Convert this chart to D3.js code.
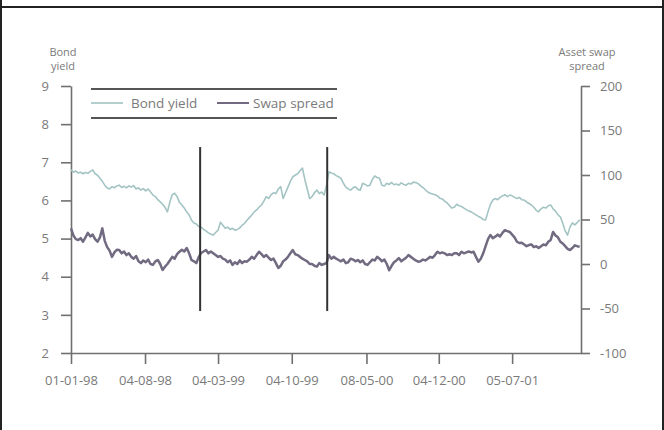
<!DOCTYPE html>
<html>
<head>
<meta charset="utf-8">
<script src="https://cdnjs.cloudflare.com/ajax/libs/d3/7.8.5/d3.min.js"></script>
<style>
  body { margin: 0; background: #fff; }
  svg { display: block; font-family: "Open Sans", "DejaVu Sans", sans-serif; }
</style>
</head>
<body>
<div class="chart"></div>
<script>
// weekly observations starting 01-01-98
var startDate = new Date(1998, 0, 1);
var endDate = new Date(2002, 0, 21);
var stepDays = 7;

var bondYield = [
  6.80, 6.74, 6.77, 6.72, 6.74, 6.70, 6.73, 6.71, 6.76, 6.80,
  6.70, 6.66, 6.58, 6.50, 6.40, 6.33, 6.30, 6.36, 6.33, 6.38,
  6.40, 6.34, 6.37, 6.33, 6.38, 6.35, 6.39, 6.30, 6.33, 6.27,
  6.31, 6.25, 6.30, 6.22, 6.14, 6.10, 6.02, 5.96, 5.90, 5.82,
  5.70, 5.95, 6.15, 6.19, 6.10, 5.95, 5.88, 5.80, 5.70, 5.62,
  5.48, 5.41, 5.38, 5.32, 5.30, 5.24, 5.20, 5.15, 5.12, 5.09,
  5.16, 5.22, 5.43, 5.35, 5.27, 5.30, 5.24, 5.27, 5.22, 5.24,
  5.28, 5.35, 5.40, 5.48, 5.55, 5.62, 5.70, 5.75, 5.82, 5.88,
  5.98, 6.10, 6.05, 6.15, 6.20, 6.18, 6.30, 6.36, 6.05, 6.20,
  6.35, 6.50, 6.62, 6.66, 6.70, 6.78, 6.85, 6.55, 6.30, 6.05,
  6.10, 6.20, 6.27, 6.18, 6.22, 6.14, 6.40, 6.75, 6.72, 6.70,
  6.65, 6.62, 6.58, 6.45, 6.35, 6.30, 6.27, 6.33, 6.36, 6.29,
  6.27, 6.45, 6.42, 6.38, 6.40, 6.55, 6.64, 6.60, 6.58, 6.40,
  6.38, 6.45, 6.42, 6.47, 6.41, 6.43, 6.40, 6.46, 6.42, 6.40,
  6.45, 6.43, 6.48, 6.47, 6.44, 6.38, 6.34, 6.28, 6.22, 6.19,
  6.17, 6.15, 6.12, 6.06, 6.04, 5.98, 5.94, 5.86, 5.80, 5.82,
  5.90, 5.86, 5.84, 5.80, 5.76, 5.72, 5.70, 5.66, 5.62, 5.58,
  5.55, 5.50, 5.49, 5.70, 5.90, 6.01, 6.05, 6.02, 6.08, 6.12,
  6.15, 6.10, 6.14, 6.12, 6.08, 6.05, 6.08, 6.02, 6.01, 5.96,
  5.92, 5.88, 5.82, 5.74, 5.70, 5.78, 5.82, 5.80, 5.86, 5.88,
  5.78, 5.72, 5.62, 5.57, 5.40, 5.20, 5.09, 5.30, 5.41, 5.36,
  5.42, 5.49
];

var swapSpread = [
  40, 32, 28, 27, 29, 25, 30, 35, 31, 33,
  28, 25, 30, 40, 26, 19, 15, 8, 13, 16,
  15.7, 12, 14, 10, 12, 8, 6, 9, 3, 1,
  4, 2, 5, 0, -1, 3, 4.5, 0, -6.7, -3,
  0, 4, 8, 6, 11, 13.8, 16, 14, 18, 12,
  4.5, 3, 1, 8, 12.4, 14, 15.7, 12, 14, 12,
  10, 8, 9, 6, 5, 2, 4, -1, 2, 0,
  4, 1, 3, 2.6, 5, 8, 6, 10, 13.8, 11,
  8, 10, 7, 4.5, 6, 1, -4.5, -2, 3, 5,
  8, 12, 15.7, 11, 10, 8, 6, 4.5, 3, 0,
  0, -2, -3, 1, -1, 0, 1, 10, 6, 8,
  6, 4.5, 3, 5, 1, 2, 6, 5, 3, 4.5,
  2, 4, 0, -1, 2, 5, 4, 8, 6, 3,
  5, 0, -7, -2, 2, 4, 6.7, 3, 5, 7,
  10, 8, 6, 4, 2.6, 3, 5, 4, 6, 8,
  7, 10, 13.8, 12, 13, 12, 10, 11, 10, 12,
  12, 10, 13.8, 12, 13, 14, 13, 13.8, 8, 2.6,
  6, 12, 20, 28, 32.6, 29, 30.7, 33, 31, 35,
  38, 37, 36, 33, 30, 25, 23.6, 24, 22, 20,
  21.3, 22, 19, 20, 18, 20, 22, 21, 25, 27,
  36, 32, 30, 25, 23, 20, 17, 15.7, 18, 21,
  20, 19.4
];

// vertical event markers (dates, bond yield range)
var eventDates = [new Date(1999, 0, 11), new Date(2000, 0, 15)];
var eventRange = [3.1, 7.4];

var xTickDates = [
  new Date(1998, 0, 1), new Date(1998, 7, 4), new Date(1999, 2, 4),
  new Date(1999, 9, 4), new Date(2000, 4, 8), new Date(2000, 11, 4),
  new Date(2001, 6, 5)
];
var yieldTicks = [2, 3, 4, 5, 6, 7, 8, 9];
var spreadTicks = [-100, -50, 0, 50, 100, 150, 200];
var seriesNames = ["Bond yield", "Swap spread"];

var width = 664, height = 430;
var margin = { top: 86, right: 581, bottom: 353, left: 71 };
var yieldColor = "#a3c4c3", spreadColor = "#716a80";
var axisColor = "#707070", textColor = "#7a7a7a";

var svg = d3.select(".chart")
  .append("svg")
    .attr("width", width)
    .attr("height", height);

// outer frame
svg.append("line").attr("x1", 0).attr("x2", width).attr("y1", 7).attr("y2", 7)
  .attr("stroke", "#222").attr("stroke-width", 2);
svg.append("line").attr("x1", 1).attr("x2", 1).attr("y1", 0).attr("y2", height)
  .attr("stroke", "#222").attr("stroke-width", 2);
svg.append("line").attr("x1", 663).attr("x2", 663).attr("y1", 0).attr("y2", height)
  .attr("stroke", "#222").attr("stroke-width", 2);

var dates = bondYield.map(function(d, i) { return d3.timeDay.offset(startDate, i * stepDays); });

var x = d3.scaleTime().domain([startDate, endDate]).range([margin.left, margin.right]);
var yL = d3.scaleLinear().domain([2, 9]).range([margin.bottom, margin.top]);
var yR = d3.scaleLinear().domain([-100, 200]).range([margin.bottom, margin.top]);

function plain(d) { return String(d); }

function styleAxis(g) {
  g.select(".domain").attr("stroke", axisColor).attr("stroke-width", 1.6);
  g.selectAll(".tick line").attr("stroke", axisColor).attr("stroke-width", 1.6);
  g.selectAll(".tick text").attr("fill", textColor).attr("font-size", 13)
    .attr("font-family", "'Open Sans', sans-serif");
}

svg.append("g")
  .attr("transform", "translate(" + margin.left + ",0)")
  .call(d3.axisLeft(yL).tickValues(yieldTicks).tickFormat(plain)
    .tickSize(10).tickSizeOuter(0).tickPadding(12))
  .call(styleAxis);

svg.append("g")
  .attr("transform", "translate(" + margin.right + ",0)")
  .call(d3.axisRight(yR).tickValues(spreadTicks).tickFormat(plain)
    .tickSize(9).tickSizeOuter(0).tickPadding(10))
  .call(styleAxis);

svg.append("g")
  .attr("transform", "translate(0," + margin.bottom + ")")
  .call(d3.axisBottom(x).tickValues(xTickDates).tickFormat(d3.timeFormat("%d-%m-%y"))
    .tickSize(11).tickSizeOuter(0).tickPadding(12))
  .call(styleAxis);

// axis titles
svg.append("text").attr("x", 63).attr("y", 56).attr("text-anchor", "middle")
  .attr("font-size", 11).attr("fill", textColor).text("Bond");
svg.append("text").attr("x", 63).attr("y", 70).attr("text-anchor", "middle")
  .attr("font-size", 11).attr("fill", textColor).text("yield");
svg.append("text").attr("x", 587).attr("y", 56).attr("text-anchor", "middle")
  .attr("font-size", 11).attr("fill", textColor).text("Asset swap");
svg.append("text").attr("x", 587).attr("y", 70).attr("text-anchor", "middle")
  .attr("font-size", 11).attr("fill", textColor).text("spread");

// series
var lineYield = d3.line()
  .x(function(d, i) { return x(dates[i]); })
  .y(function(d) { return yL(d); });
var lineSpread = d3.line()
  .x(function(d, i) { return x(dates[i]); })
  .y(function(d) { return yR(d); });

svg.append("path").datum(bondYield)
  .attr("d", lineYield).attr("fill", "none")
  .attr("stroke", yieldColor).attr("stroke-width", 1.6).attr("stroke-linejoin", "round");
svg.append("path").datum(swapSpread)
  .attr("d", lineSpread).attr("fill", "none")
  .attr("stroke", spreadColor).attr("stroke-width", 2.5).attr("stroke-linejoin", "round");

svg.selectAll(".event")
  .data(eventDates)
  .enter().append("line")
    .attr("class", "event")
    .attr("x1", function(d) { return x(d); })
    .attr("x2", function(d) { return x(d); })
    .attr("y1", yL(eventRange[0]))
    .attr("y2", yL(eventRange[1]))
    .attr("stroke", "#333")
    .attr("stroke-width", 2);

// legend
var legend = svg.append("g").attr("transform", "translate(91,0)");
legend.append("line").attr("x1", 0).attr("x2", 246).attr("y1", 89).attr("y2", 89)
  .attr("stroke", "#555").attr("stroke-width", 2);
legend.append("line").attr("x1", 0).attr("x2", 246).attr("y1", 118).attr("y2", 118)
  .attr("stroke", "#555").attr("stroke-width", 2);

var items = legend.selectAll(".item")
  .data(seriesNames)
  .enter().append("g")
    .attr("class", "item")
    .attr("transform", function(d, i) { return "translate(" + (i * 126) + ",103)"; });
items.append("line")
  .attr("x1", 0).attr("x2", 32)
  .attr("stroke", function(d, i) { return i == 0 ? yieldColor : spreadColor; })
  .attr("stroke-width", function(d, i) { return i == 0 ? 1.6 : 2; });
items.append("text")
  .attr("x", function(d, i) { return i == 0 ? 40 : 36; })
  .attr("dy", "0.35em")
  .attr("font-size", 13.5)
  .attr("fill", textColor)
  .text(function(d) { return d; });
</script>
</body>
</html>
